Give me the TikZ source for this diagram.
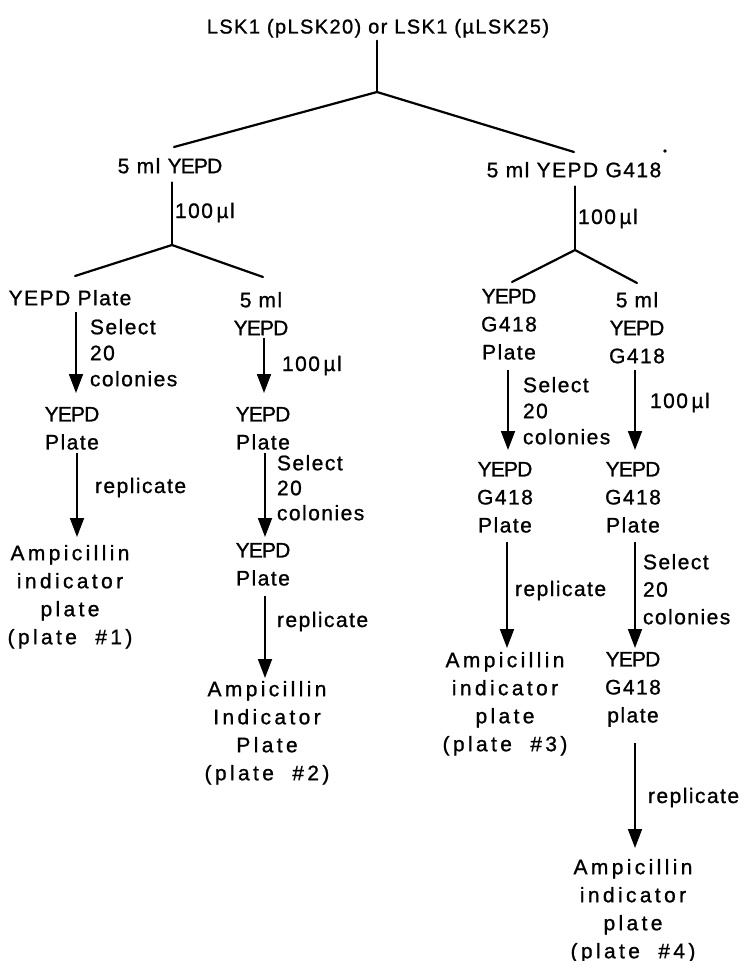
\documentclass[tikz,border=0pt]{standalone}
\usepackage{fontspec}
\setmainfont{Liberation Sans}[LetterSpace=7,FakeBold=1]
\usetikzlibrary{arrows.meta}
% squeezed spelling of the medium name used in stacked labels
\newcommand\tightYEPD{{\addfontfeatures{LetterSpace=-4}YEPD}}

\tikzset{
  base/.style={inner sep=0pt, outer sep=0pt, text=black},
  txt/.style={base, align=center, anchor=north, font=\fontsize{21}{28}\selectfont},
  amp/.style={txt, font=\fontsize{21}{28}\selectfont\addfontfeatures{LetterSpace=16}},
  lbl/.style={base, align=left, anchor=north west, font=\fontsize{21}{26}\selectfont},
  one/.style={base, anchor=base west, font=\fontsize{21}{24}\selectfont},
  branch/.style={line width=2.2pt, line cap=round, line join=round},
  flow/.style={line width=1.8pt, -{Triangle[width=14pt,length=19pt]}}
}

\begin{document}
\begin{tikzpicture}[x=1pt,y=-1pt]
\fill[white] (0,0) rectangle (749,961);
\useasboundingbox (0,0) rectangle (749,961);

% ---- top of the tree ----
\node[txt, font=\fontsize{20}{26}\selectfont] (title) at (378,19) {LSK1 (pLSK20) or LSK1 (µLSK25)};
\coordinate (j0) at (377,92);
\node[txt] (n5a) at (170,158) {5 ml \tightYEPD};
\node[txt] (n5b) at (574,162) {5 ml YEPD G418};
\fill (665,151) circle (1.8);

\draw[branch, shorten <=3pt] (title.south -| j0) -- (j0);
\draw[branch] ([xshift=4pt,yshift=11pt]n5a.north) -- (j0) -- ([yshift=10pt]n5b.north);

% ---- left subtree ----
\coordinate (j1) at (172,245);
\draw[branch, shorten <=9pt] (n5a.south -| j1) -- (j1);
\node[one] (mu1) at (175,218) {100\,µl};

\node[txt] (ypA) at (70,290) {YEPD Plate};
\node[txt] (cB) at (261,292) {5\,\,ml\\\tightYEPD};
\draw[branch] ([xshift=5pt,yshift=14pt]ypA.north) -- (j1) -- ([xshift=2pt,yshift=15pt]cB.north);

% column A
\coordinate (axA1) at (76,0);
\coordinate (axA2) at (77,0);
\node[txt] (ypA2) at (72,407) {\tightYEPD\\Plate};
\node[amp] (ampA) at (70,545) {Ampicillin\\indicator\\plate\\(plate\ \ \#1)};
\draw[flow, shorten <=7pt, shorten >=14pt] (ypA.south -| axA1) -- (ypA2.north -| axA1);
\draw[flow, shorten <=3pt, shorten >=8pt] (ypA2.south -| axA2) -- (ampA.north -| axA2);
\node[lbl] (selA) at (90,319) {Select\\20\\colonies};
\node[one] (repA) at (95,493) {replicate};

% column B
\coordinate (axB1) at (264,0);
\coordinate (axB2) at (265,0);
\node[txt] (ypB) at (263,407) {\tightYEPD\\Plate};
\node[txt] (ypB2) at (263,543) {\tightYEPD\\Plate};
\node[amp] (ampB) at (267,681) {Ampicillin\\Indicator\\Plate\\(plate\ \ \#2)};
\draw[flow, shorten <=3pt, shorten >=14pt] (cB.south -| axB1) -- (ypB.north -| axB1);
\draw[flow, shorten <=3pt, shorten >=6pt] (ypB.south -| axB2) -- (ypB2.north -| axB2);
\draw[flow, shorten <=10pt, shorten >=3pt] (ypB2.south -| axB2) -- (ampB.north -| axB2);
\node[one] (mu2) at (282,371) {100\,µl};
\node[lbl, font=\fontsize{21}{25}\selectfont] (selB) at (277,455) {Select\\20\\colonies};
\node[one] (repB) at (277,627) {replicate};

% ---- right subtree ----
\coordinate (j2) at (575,250);
\draw[branch, shorten <=9pt] (n5b.south -| j2) -- (j2);
\node[one] (mu3) at (578,224) {100\,µl};

\node[txt] (ypC) at (509,289) {\tightYEPD\\G418\\Plate};
\node[txt] (cD) at (637,292) {5\,\,ml\\\tightYEPD\\G418};
\draw[branch] ([xshift=3pt,yshift=7pt]ypC.north) -- (j2) -- ([yshift=9pt]cD.north);

% column C
\coordinate (axC1) at (508,0);
\coordinate (axC2) at (507,0);
\node[txt] (ypC2) at (505,462) {\tightYEPD\\G418\\Plate};
\node[amp] (ampC) at (505,652) {Ampicillin\\indicator\\plate\\(plate\ \ \#3)};
\draw[flow, shorten <=10pt, shorten >=12pt] (ypC.south -| axC1) -- (ypC2.north -| axC1);
\draw[flow, shorten <=9pt, shorten >=4pt] (ypC2.south -| axC2) -- (ampC.north -| axC2);
\node[lbl] (selC) at (523,377) {Select\\20\\colonies};
\node[one] (repC) at (515,596) {replicate};

% column D
\coordinate (axD) at (635,0);
\node[txt] (ypD) at (633,462) {\tightYEPD\\G418\\Plate};
\node[txt] (ypD2) at (633,652) {\tightYEPD\\G418\\plate};
\node[amp] (ampD) at (633,859) {Ampicillin\\indicator\\plate\\(plate\ \ \#4)};
\draw[flow, shorten <=7pt, shorten >=12pt] (cD.south -| axD) -- (ypD.north -| axD);
\draw[flow, shorten <=9pt, shorten >=4pt] (ypD.south -| axD) -- (ypD2.north -| axD);
\draw[flow, shorten <=16pt, shorten >=11pt] (ypD2.south -| axD) -- (ampD.north -| axD);
\node[one] (mu4) at (650,408) {100\,µl};
\node[lbl, font=\fontsize{21}{27.5}\selectfont] (selD) at (643,554) {Select\\20\\colonies};
\node[one] (repD) at (648,803) {replicate};
\end{tikzpicture}
\end{document}
